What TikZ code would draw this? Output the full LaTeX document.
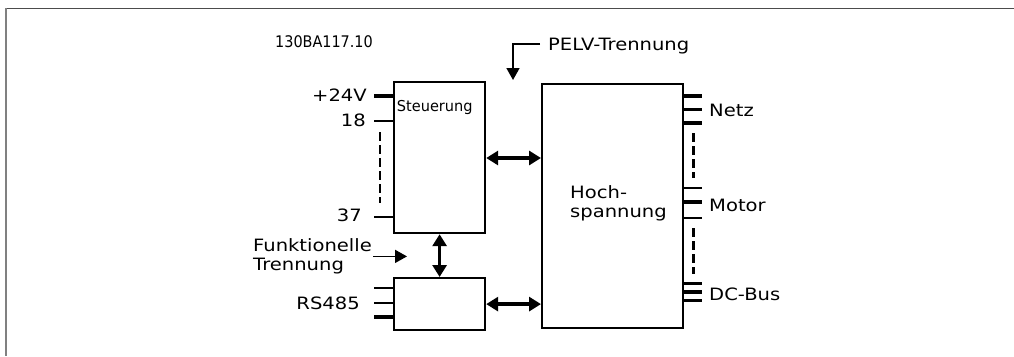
\documentclass[tikz,border=0pt]{standalone}
\usepackage{fontspec}
\usetikzlibrary{arrows.meta,calc}
\newfontfamily\lblfont[FakeStretch=1.15]{DejaVu Sans}
\newfontfamily\smfont[FakeStretch=0.97]{DejaVu Sans}
\newfontfamily\codefont[FakeStretch=0.9]{DejaVu Sans}
\newcommand\lblsize{\lblfont\fontsize{17pt}{18.3pt}\selectfont}
\newcommand\smsize{\smfont\fontsize{15pt}{17pt}\selectfont}
\newcommand\codesize{\codefont\fontsize{16pt}{18pt}\selectfont}
\begin{document}
\begin{tikzpicture}[x=1pt,y=-1pt,
  box/.style={draw, line width=2.2pt, inner sep=0pt, anchor=north west},
  lbl/.style={inner sep=0pt, font=\lblsize},
  sml/.style={inner sep=0pt, font=\smsize},
  pinthin/.style={line width=2.2pt},
  pinthick/.style={line width=3.5pt},
  dashline/.style={line width=2.6pt, dash pattern=on 9pt off 4pt},
  dblarr/.style={line width=3.5pt, {Triangle[length=12pt,width=14pt]}-{Triangle[length=12pt,width=14pt]}},
  onearr/.style={line width=1.6pt, -{Triangle[length=12pt,width=13pt]}},
  frame/.style={line width=1.6pt}
]
\useasboundingbox (0,0) rectangle (1014,356);
% frame
\draw[frame, color=black!70] (5,8.6) -- (1014,8.6);
\draw[frame, color=black!50] (5.8,8) -- (5.8,356);

% boxes
\node[box, minimum width=91pt, minimum height=151pt] (st) at (393,81) {};
\node[box, minimum width=91pt, minimum height=52pt] (rs) at (393,277) {};
\node[box, minimum width=141pt, minimum height=244pt] (hv) at (541,83) {};

% texts
\node[inner sep=0pt, font=\codesize, anchor=base west] (code) at (275,47) {130BA117.10};
\node[sml, anchor=base west] (stl) at (396.7,111) {Steuerung};
\node[lbl, anchor=base west] (hv1) at (570,198) {Hoch-};
\node[lbl, anchor=base west] (hv2) at (570,217) {spannung};
\node[lbl, anchor=base west, text depth=0pt, inner xsep=8pt] (pelv) at (540,50) {PELV-Trennung};
\node[lbl, align=left, anchor=west, inner sep=1pt] (fk) at (252,256.4) {Funktionelle\\Trennung};

% left labels
\node[lbl, anchor=base east] (l24) at (367,101.7) {+24V};
\node[lbl, anchor=base east] (l18) at (366,126) {18};
\node[lbl, anchor=base east] (l37) at (362,221.5) {37};
\node[lbl, anchor=base east] (lrs) at (360,309) {RS485};
% right labels
\node[lbl, anchor=base west] (netz) at (709,116.7) {Netz};
\node[lbl, anchor=base west] (mot) at (709,211) {Motor};
\node[lbl, anchor=base west] (dcb) at (709,300.7) {DC-Bus};

% left pins
\draw[pinthick] (st.west |- 0,96) -- ++(-19,0);
\draw[pinthin] (st.west |- 0,121) -- ++(-19,0);
\draw[pinthin] (st.west |- 0,217) -- ++(-19,0);
\draw[dashline] (380,132) -- (380,203);
\draw[pinthin] (rs.west |- 0,288) -- ++(-19,0);
\draw[pinthin] (rs.west |- 0,303) -- ++(-19,0);
\draw[pinthick] (rs.west |- 0,317) -- ++(-19,0);

% right pins
\draw[pinthick] (hv.east |- 0,96) -- ++(18,0);
\draw[pinthick] (hv.east |- 0,109.5) -- ++(18,0);
\draw[pinthick] (hv.east |- 0,123) -- ++(18,0);
\draw[dashline, line width=3pt] (693,133) -- (693,178);
\draw[pinthin] (hv.east |- 0,188) -- ++(18,0);
\draw[pinthick] (hv.east |- 0,202) -- ++(18,0);
\draw[pinthin] (hv.east |- 0,218) -- ++(18,0);
\draw[dashline, line width=3pt] (693,228) -- (693,274);
\draw[pinthick] (hv.east |- 0,283.5) -- ++(18,0);
\draw[pinthick] (hv.east |- 0,292) -- ++(18,0);
\draw[pinthick] (hv.east |- 0,300.5) -- ++(18,0);

% connectors
\draw[dblarr] (st.east |- 0,158) -- (hv.west |- 0,158);
\draw[dblarr] (rs.east) -- (rs.east -| hv.west);
\draw[dblarr] (st.south) -- (rs.north);
\coordinate (fkt) at (407,256.4);
\draw[onearr] (fk.east) -- (fkt);
\coordinate (pv) at (513,80);
\draw[onearr] (pelv.west) -| (pv);
\end{tikzpicture}
\end{document}
